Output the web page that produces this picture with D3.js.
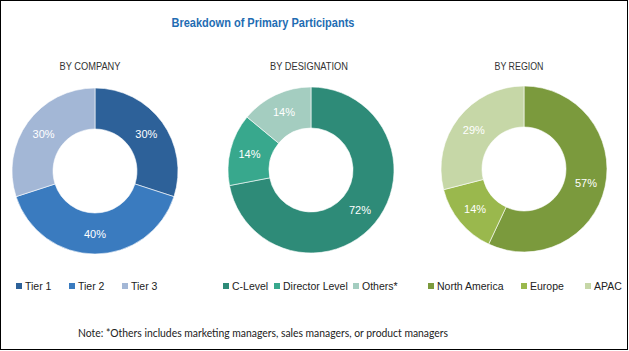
<!DOCTYPE html>
<html lang="en">
<head>
<meta charset="UTF-8">
<title>Breakdown of Primary Participants</title>
<style>
	body { margin: 0; background: #fff; }
	svg { display: block; }
	.narrow { font-family: "Liberation Sans Narrow", "Arial Narrow", "Liberation Sans", sans-serif; }
</style>
</head>
<body>
<svg id="container" width="629" height="351"></svg>
<script src="https://cdn.jsdelivr.net/npm/d3@7"></script>
<script>
	// data
	const companyLabels = ["Tier 1", "Tier 2", "Tier 3"];
	const companyValues = [30, 40, 30];
	const designationLabels = ["C-Level", "Director Level", "Others*"];
	const designationValues = [72, 14, 14];
	const regionLabels = ["North America", "Europe", "APAC"];
	const regionValues = [57, 14, 29];

	const charts = [
		{ title: "BY COMPANY", labels: companyLabels, values: companyValues,
		  colors: ["#2d6199", "#3a7bbf", "#a3b7d6"], cx: 95, cy: 171, tx: 90, tw: 61,
		  legendX: [16, 69, 122] },
		{ title: "BY DESIGNATION", labels: designationLabels, values: designationValues,
		  colors: ["#2e8b78", "#38a88d", "#a4cdc0"], cx: 311, cy: 170, tx: 309, tw: 78,
		  legendX: [223, 274, 353] },
		{ title: "BY REGION", labels: regionLabels, values: regionValues,
		  colors: ["#7b9a3d", "#9ab84d", "#c6d7a7"], cx: 524, cy: 169, tx: 519, tw: 49,
		  legendX: [428, 521, 585] }
	];

	const svg = d3.select("#container");

	svg.append("rect")
		.attr("x", 0.5).attr("y", 0.5)
		.attr("width", 627).attr("height", 349)
		.attr("fill", "#fff").attr("stroke", "#000");

	svg.append("text")
		.attr("class", "narrow")
		.attr("x", 263).attr("y", 27)
		.attr("text-anchor", "middle")
		.attr("font-size", 13.5).attr("font-weight", "bold")
		.attr("fill", "#1f6db3")
		.attr("textLength", 183)
		.attr("lengthAdjust", "spacingAndGlyphs")
		.text("Breakdown of Primary Participants");

	const pie = d3.pie().sort(null);
	const arc = d3.arc().innerRadius(42).outerRadius(83);
	const labelArc = d3.arc().innerRadius(44).outerRadius(83);

	charts.forEach(c => {
		svg.append("text")
			.attr("class", "narrow")
			.attr("x", c.tx).attr("y", 70)
			.attr("text-anchor", "middle")
			.attr("font-size", 11)
			.attr("fill", "#333")
			.attr("textLength", c.tw)
			.attr("lengthAdjust", "spacingAndGlyphs")
			.text(c.title);

		const g = svg.append("g").attr("transform", `translate(${c.cx},${c.cy})`);
		const arcs = pie(c.values);

		g.selectAll("path").data(arcs).join("path")
			.attr("d", arc)
			.attr("fill", (d, i) => c.colors[i])
			.attr("stroke", "#fff")
			.attr("stroke-width", 0.6);

		g.selectAll("text").data(arcs).join("text")
			.attr("class", "narrow")
			.attr("transform", d => `translate(${labelArc.centroid(d)})`)
			.attr("text-anchor", "middle")
			.attr("dy", "0.35em")
			.attr("font-size", 11)
			.attr("fill", "#fff")
			.text(d => d.data + "%");

		const lg = svg.append("g");
		c.labels.forEach((l, i) => {
			lg.append("rect")
				.attr("x", c.legendX[i]).attr("y", 283)
				.attr("width", 6).attr("height", 6)
				.attr("fill", c.colors[i]);
			lg.append("text")
				.attr("x", c.legendX[i] + 9).attr("y", 290)
				.attr("font-family", "Liberation Sans, sans-serif")
				.attr("font-size", 10.5)
				.attr("fill", "#222")
				.text(l);
		});
	});

	svg.append("text")
		.attr("x", 263).attr("y", 337)
		.attr("text-anchor", "middle")
		.attr("font-family", "Lato, 'Open Sans', sans-serif")
		.attr("font-size", 12)
		.attr("fill", "#222")
		.attr("textLength", 370)
		.attr("lengthAdjust", "spacingAndGlyphs")
		.text("Note: *Others includes marketing managers, sales managers, or product managers");
</script>
</body>
</html>
